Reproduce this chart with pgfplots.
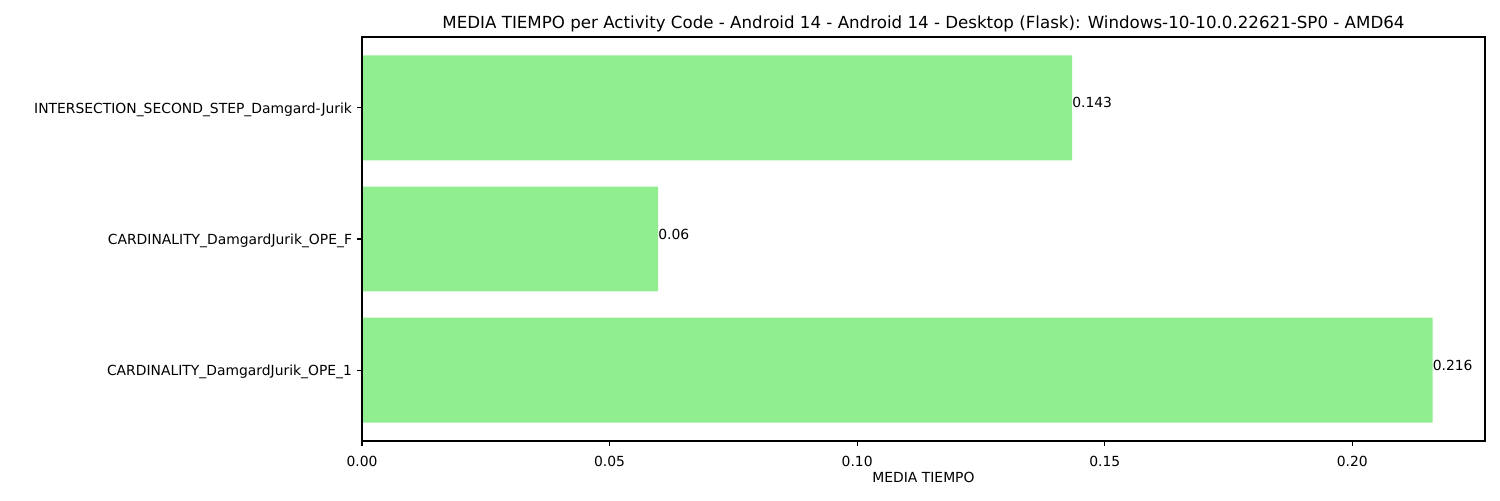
\documentclass[border=0pt]{standalone}
\usepackage{fontspec}
\setmainfont{DejaVu Sans}
\usepackage{pgfplots}
\pgfplotsset{compat=1.18}
\definecolor{lightgreen}{HTML}{90EE90}

\begin{document}
\begin{tikzpicture}
\begin{axis}[
    scale only axis,
    width=808.56pt,
    height=290.88pt,
    xbar,
    bar width=0.8,
    bar shift=0pt,
    xmin=0, xmax=0.2268,
    ymin=-0.54, ymax=2.54,
    xtick={0,0.05,0.10,0.15,0.20},
    xticklabels={0.00,0.05,0.10,0.15,0.20},
    ytick={0,1,2},
    yticklabels={CARDINALITY\_DamgardJurik\_OPE\_1,CARDINALITY\_DamgardJurik\_OPE\_F,INTERSECTION\_SECOND\_STEP\_Damgard-Jurik},
    tick align=outside,
    major tick length=3.5pt,
    xtick pos=bottom,
    ytick pos=left,
    tick style={black, line width=0.8pt},
    axis line style={line width=0.8pt},
    axis on top,
    /pgf/number format/assume math mode=true,
    xticklabel style={anchor=north, inner sep=0pt, yshift=-7pt},
    yticklabel style={anchor=east, inner sep=0pt, xshift=-3.5pt, yshift=-1.4pt},
    title={MEDIA TIEMPO per Activity Code - Android 14 - Android 14 - Desktop (Flask): Windows-10-10.0.22621-SP0 - AMD64},
    title style={at={(axis description cs:0.5,1)}, anchor=base, yshift=0pt, inner sep=0pt, font=\fontsize{12}{14}\selectfont},
    xlabel={MEDIA TIEMPO},
    xlabel style={at={(axis description cs:0.5,0)}, anchor=center, yshift=-25.9pt},
    ylabel={Activity Code},
    ylabel style={at={(axis description cs:0,0.5)}, anchor=center, rotate=0, xshift=-246pt},
    nodes near coords,
    point meta=explicit symbolic,
    every node near coord/.append style={anchor=base west, inner sep=0pt, font=\normalsize},
]
\addplot[fill=lightgreen, draw=none] table[meta=label] {
x      y  label
0.2162 0  0.216
0.0598 1  0.06
0.1434 2  0.143
};
\end{axis}
\pgfresetboundingbox
\path[use as bounding box] (-260.64pt,-42.48pt) rectangle (819.36pt,317.52pt);
\end{tikzpicture}
\end{document}
